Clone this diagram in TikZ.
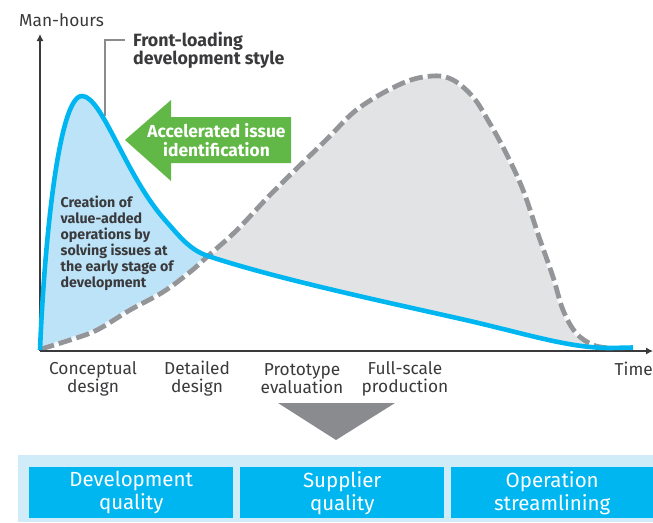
\documentclass[tikz,border=0pt]{standalone}
\usepackage{fontspec}
\setmainfont{Fira Sans}
\usetikzlibrary{arrows.meta}
\definecolor{cblue}{HTML}{00B6F0}
\definecolor{lblue}{HTML}{BDE3F8}
\definecolor{pblue}{HTML}{D0ECF8}
\definecolor{cgray}{HTML}{939598}
\definecolor{fgray}{HTML}{E2E3E5}
\definecolor{tgray}{HTML}{8A8B8E}
\definecolor{cgreen}{HTML}{62B846}
\definecolor{ink}{HTML}{3A3A3C}
\tikzset{
 lab/.style={align=center,font=\fontsize{17.3}{18}\selectfont,text=ink,inner sep=0pt},
 blab/.style={align=left,font=\fontsize{17.8}{18}\selectfont\bfseries,text=ink,inner sep=0pt},
 boxn/.style={fill=cblue,minimum height=51pt,inner sep=0pt,text=white,align=center,font=\fontsize{20.5}{23}\selectfont,anchor=north west},
 axis/.style={draw=ink,line width=1.1pt,-{Latex[length=7pt,width=7pt]}},
 blue curve/.style={draw=cblue,line width=4.6pt,line join=round},
 dash curve/.style={draw=cgray,line width=4.8pt,dash pattern=on 13.5pt off 5pt},
 dash under/.style={draw=white,opacity=0.7,line width=4.8pt}
}
\def\lefthump{(40,350) .. controls (44,250) and (58,96) .. (82,96) .. controls (102,96) and (125,175) .. (165,220) .. controls (180,237) and (190,250) .. (208,256)}
\def\taildown{.. controls (280,280) and (400,305) .. (470,321) .. controls (530,335) and (570,348) .. (610,348)}
\def\dashupper{(208,256)(237,230)(273,192)(326,140)(359,108)(403,83)(433,76)(453,80)(473,97)(489,122)(506,153)(523,190)(539,237)(553,277)(563,310)(576,333)(593,345)(609,348)}
\def\dashall{(41,349)(70,340)(97,330)(130,310)(163,292)(190,272)(208,256)(237,230)(273,192)(326,140)(359,108)(403,83)(433,76)(453,80)(473,97)(489,122)(506,153)(523,190)(539,237)(553,277)(563,310)(576,333)(593,345)(609,348)}
\begin{document}
\begin{tikzpicture}[x=1pt,y=-1pt]
\useasboundingbox (0,0) rectangle (653,522);
% fills
\fill[lblue] \lefthump -- plot[smooth,tension=0.6] coordinates {(208,256)(190,272)(163,292)(130,310)(97,330)(70,340)(41,349)} -- cycle;
\fill[fgray] plot[smooth,tension=0.6] coordinates {\dashupper} -- (610,348) .. controls (570,348) and (530,335) .. (470,321) .. controls (400,305) and (280,280) .. (208,256) -- cycle;
% dashed curve
\draw[dash under] plot[smooth,tension=0.6] coordinates {\dashall};
\draw[dash curve] plot[smooth,tension=0.6] coordinates {\dashall};
% axes
\coordinate (o) at (40,351);
\coordinate (ytop) at (40,34);
\coordinate (xend) at (653,351);
\draw[axis] (o) -- (ytop);
\draw[axis] (o) -- (xend);
% leader
\coordinate (lead0) at (125,40);
\coordinate (lead1) at (105,40);
\coordinate (lead2) at (105,116);
\draw[draw=tgray,line width=1.3pt] (lead0) -- (lead1) -- (lead2);
% front-loading curve
\draw[blue curve] \lefthump \taildown -- (633,347.5);
% green arrow
\fill[cgreen] (125,140) -- (171,100) -- (171,117) -- (291,117) -- (291,163) -- (171,163) -- (171,181) -- cycle;
\node[align=center,text=white,inner sep=0pt,font=\fontsize{17.4}{19}\selectfont\bfseries] (acc) at (216.5,140) {Accelerated issue\\identification};
% texts
\node[lab,anchor=west] (mh) at (19,20) {Man-hours};
\node[blab,anchor=north west] (fl) at (133,32) {Front-loading\\development style};
\node[align=left,anchor=north west,inner sep=0pt,text=ink,font=\fontsize{14.2}{16}\selectfont\bfseries] (cr) at (60.5,196) {Creation of\\value-added\\operations by\\solving issues at\\the early stage of\\development};
\node[lab] (c1) at (93,378.5) {Conceptual\\design};
\node[lab] (c2) at (197,378.5) {Detailed\\design};
\node[lab] (c3) at (302,378.5) {Prototype\\evaluation};
\node[lab] (c4) at (405,378.5) {Full-scale\\production};
\node[lab,anchor=east] (c5) at (653,369) {Time};
% triangle
\fill[tgray] (278,403) -- (395,403) -- (336,440) -- cycle;
% bottom
\fill[pblue] (18,455) rectangle (653,522);
\node[boxn,minimum width=204pt] (b1) at (29,467) {Development\\quality};
\node[boxn,minimum width=204pt] (b2) at (240,467) {Supplier\\quality};
\node[boxn,minimum width=202pt] (b3) at (451,467) {Operation\\streamlining};
\end{tikzpicture}
\end{document}
